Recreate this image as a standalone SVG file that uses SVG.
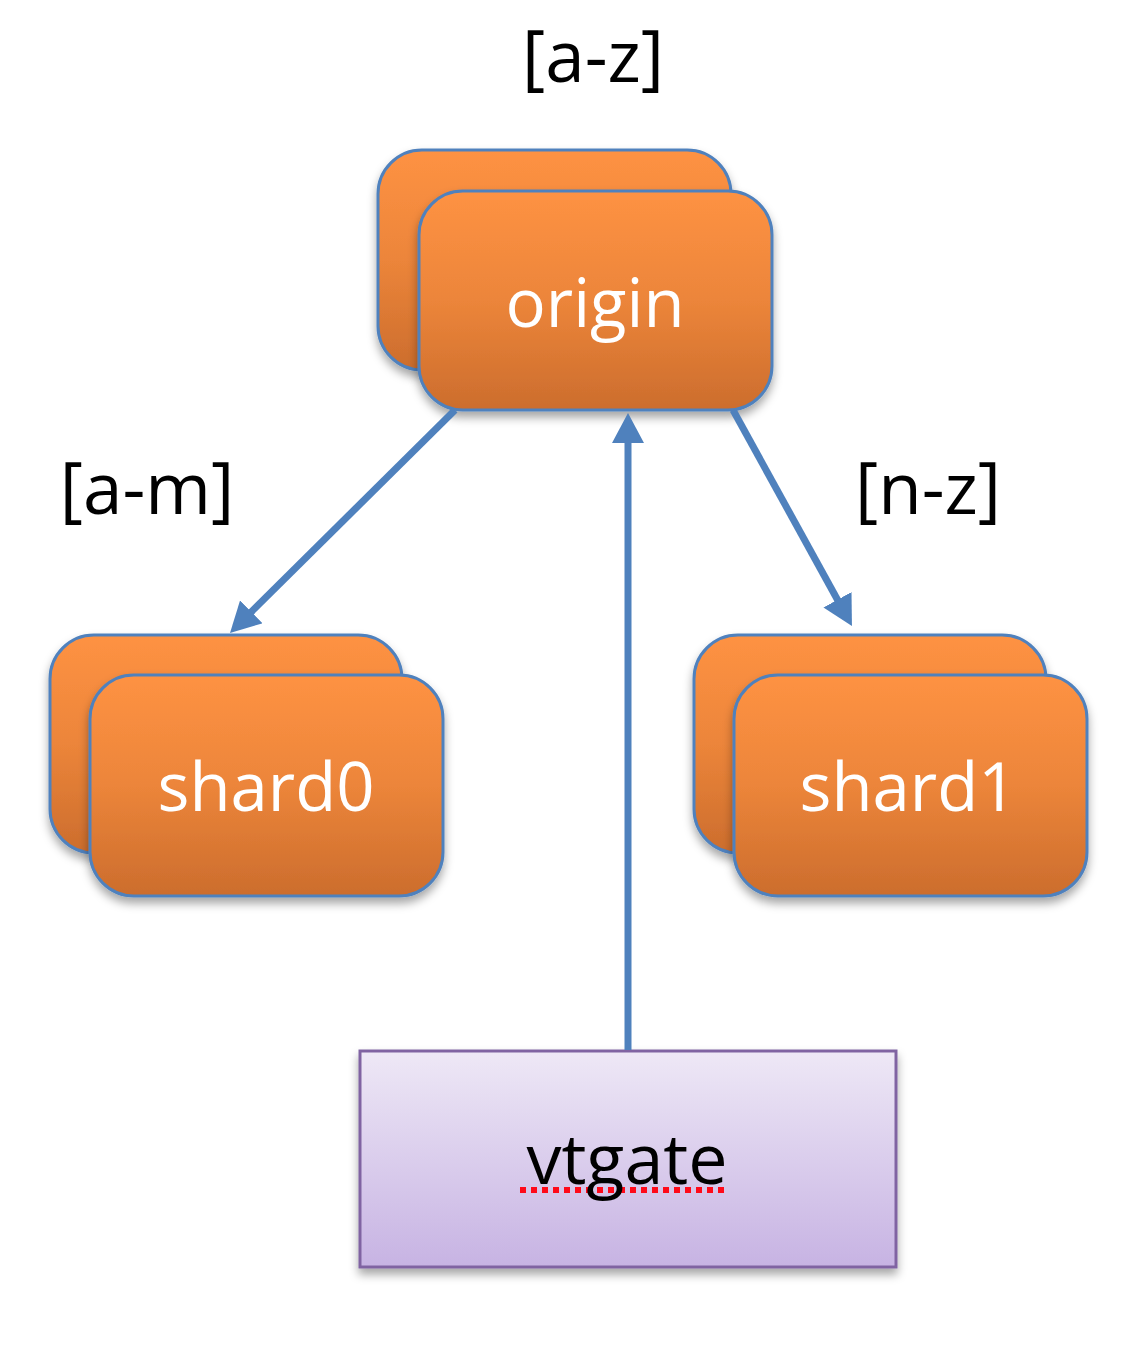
<svg xmlns="http://www.w3.org/2000/svg" width="1130" height="1372" viewBox="0 0 1130 1372">
<style>
.box{fill:url(#og);stroke:#4F81BD;stroke-width:3;filter:url(#sh)}
.lbl{font-family:"Open Sans","Noto Sans",sans-serif;font-size:67px;fill:#fff;text-anchor:middle}
.rng{font-family:"Open Sans","Noto Sans",sans-serif;font-size:71px;fill:#000;text-anchor:middle}
.con{stroke:#4F81BD;stroke-width:7;fill:none;marker-end:url(#ah)}
</style>
<defs>
<linearGradient id="og" x1="0" y1="0" x2="0" y2="1">
<stop offset="0" stop-color="#FE9243"/>
<stop offset="0.5" stop-color="#EC853A"/>
<stop offset="1" stop-color="#CC6D2D"/>
</linearGradient>
<linearGradient id="pg" x1="0" y1="0" x2="0" y2="1">
<stop offset="0" stop-color="#EEE8F6"/>
<stop offset="1" stop-color="#C7B3E3"/>
</linearGradient>
<filter id="sh" x="-20%" y="-20%" width="140%" height="150%">
<feDropShadow dx="0" dy="6" stdDeviation="5" flood-color="#000" flood-opacity="0.35"/>
</filter>
<marker id="ah" markerUnits="userSpaceOnUse" markerWidth="34" markerHeight="34" refX="10" refY="16" orient="auto">
<path d="M0,0 L30,16 L0,32 Z" fill="#4F81BD"/>
</marker>
</defs>
<text class="rng" x="593" y="82">[a-z]</text>
<text class="rng" x="147" y="514">[a-m]</text>
<text class="rng" x="928" y="514">[n-z]</text>
<g id="origin">
<rect class="box" x="378" y="150" width="353" height="220" rx="44"/>
<rect class="box" x="419" y="191" width="353" height="219" rx="44"/>
<text class="lbl" x="595" y="327">origin</text>
</g>
<g id="shard0">
<rect class="box" x="50" y="635" width="352" height="218" rx="44"/>
<rect class="box" x="90" y="675" width="353" height="221" rx="44"/>
<text class="lbl" x="266" y="811">shard0</text>
</g>
<g id="shard1">
<rect class="box" x="694" y="635" width="352" height="218" rx="44"/>
<rect class="box" x="734" y="675" width="353" height="221" rx="44"/>
<text class="lbl" x="908" y="811">shard1</text>
</g>
<g id="vtgate">
<rect x="360" y="1051" width="536" height="216" fill="url(#pg)" stroke="#8064A2" stroke-width="3" filter="url(#sh)"/>
<line x1="520" y1="1190" x2="726" y2="1190" stroke="#FF0A1A" stroke-width="6" stroke-dasharray="6,5"/>
<text x="627" y="1184" font-family="'Open Sans','Noto Sans',sans-serif" font-size="70" fill="#000" text-anchor="middle">vtgate</text>
</g>
<g id="connectors">
<line class="con" x1="455" y1="410" x2="244.2" y2="618.9"/>
<line class="con" x1="733" y1="410" x2="842.3" y2="608.5"/>
<line class="con" x1="628" y1="1050" x2="628" y2="433"/>
</g>
</svg>
